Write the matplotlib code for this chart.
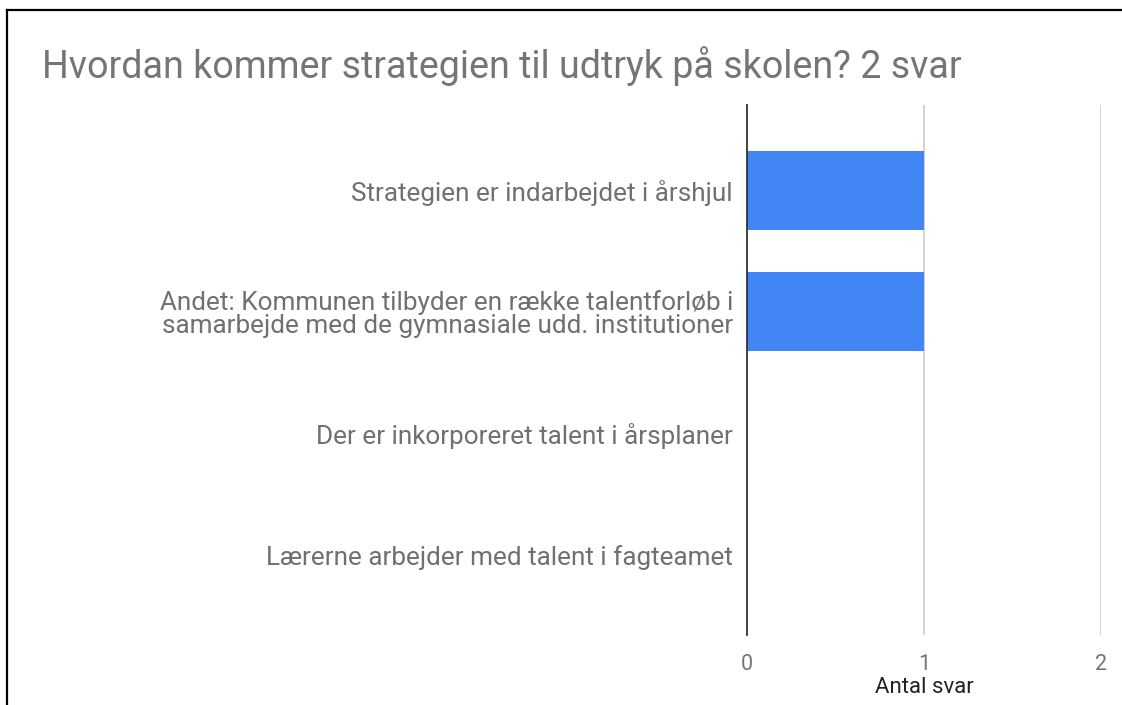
import matplotlib
matplotlib.use("Agg")
import matplotlib.pyplot as plt
from matplotlib.lines import Line2D

title = "Hvordan kommer strategien til udtryk på skolen? 2 svar"
categories = [
    "Strategien er indarbejdet i årshjul",
    "Andet: Kommunen tilbyder en række talentforløb i\nsamarbejde med de gymnasiale udd. institutioner",
    "Der er inkorporeret talent i årsplaner",
    "Lærerne arbejder med talent i fagteamet",
]
values = [1, 1, 0, 0]
xticks = [0, 1, 2]
xlabel = "Antal svar"

plt.rcParams['font.family'] = ['Roboto', 'DejaVu Sans']

W, H = 1122, 705
fig = plt.figure(figsize=(W / 100, H / 100), dpi=100)
fig.patch.set_facecolor("white")

# axes placement in pixels
left, right, top, bottom = 747, 1101, 105, 635
ax = fig.add_axes([left / W, 1 - bottom / H, (right - left) / W, (bottom - top) / H])

ypos = list(range(len(categories)))
ax.barh(ypos, values, height=0.65, color="#4285F4", zorder=3)

ax.set_xlim(0, 2)
ax.set_ylim(3.66, -0.70)
ax.set_xticks(xticks)
ax.set_xticklabels([str(t) for t in xticks], fontsize=15.5, color="#757575")
ax.set_yticks(ypos)
ax.set_yticklabels(categories, fontsize=18.8, color="#707070", linespacing=0.95)
ax.tick_params(axis="both", length=0)
ax.tick_params(axis="y", pad=10)
ax.tick_params(axis="x", pad=14)

for s in ["top", "right", "bottom"]:
    ax.spines[s].set_visible(False)
ax.spines["left"].set_color("#333333")
ax.spines["left"].set_linewidth(1.3)
ax.spines["left"].set_zorder(4)

for t in xticks[1:]:
    ax.axvline(t, color="#cccccc", linewidth=1.2, zorder=1)

ax.set_xlabel(xlabel, fontsize=16, color="#222222", labelpad=1)

fig.text(42 / W, 1 - 66 / H, title, fontsize=27.1, color="#757575", va="center", ha="left")

# screenshot border
fig.add_artist(Line2D([7 / W, 1], [1 - 10 / H, 1 - 10 / H], color="black", linewidth=1.6, transform=fig.transFigure))
fig.add_artist(Line2D([7 / W, 7 / W], [0, 1 - 10 / H], color="black", linewidth=1.6, transform=fig.transFigure))

fig.savefig("out.png", dpi=100)
